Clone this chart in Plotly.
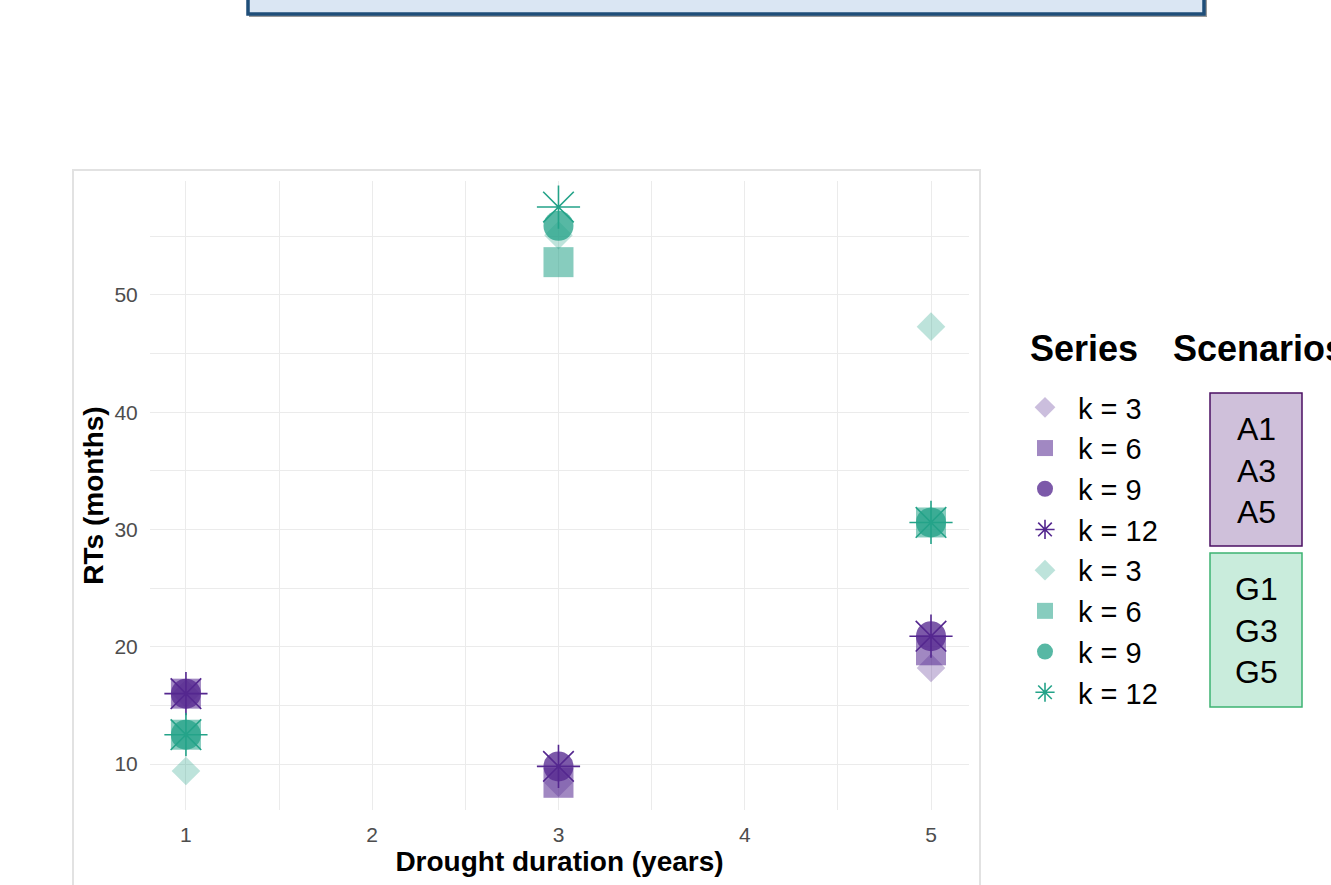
import plotly.graph_objects as go

# ---------------- data ----------------
durations = [1, 3, 5]                      # drought duration (years)
k_labels = ["k = 3", "k = 6", "k = 9", "k = 12"]
scen_A = ["A1", "A3", "A5"]
scen_G = ["G1", "G3", "G5"]

# RTs (months) for scenarios A (purple) per k, at durations 1,3,5
rt_A_k3 = [16.0, 8.4, 18.2]
rt_A_k6 = [16.0, 8.4, 19.7]
rt_A_k9 = [16.0, 9.8, 20.9]
rt_A_k12 = [16.0, 9.8, 20.9]

# RTs (months) for scenarios G (teal) per k
rt_G_k3 = [9.4, 55.1, 47.3]
rt_G_k6 = [12.5, 52.8, 30.6]
rt_G_k9 = [12.5, 55.9, 30.6]
rt_G_k12 = [12.5, 57.5, 30.6]

y_ticks = [10, 20, 30, 40, 50]
x_ticks = [1, 2, 3, 4, 5]

# ---------------- styling ----------------
W, H = 1331, 885
FONT = "Liberation Sans, Arial, sans-serif"
purple = (84, 39, 143)
teal = (36, 163, 137)
alphas = [0.3, 0.55, 0.77, 1.0]
symbols = ["diamond", "square", "circle", "asterisk-open"]
sizes = [22, 30, 30, 36]


def px(x):
    return x / W


def py(y):
    return 1 - y / H


def rgba(c, a):
    return "rgba(%d,%d,%d,%.2f)" % (c[0], c[1], c[2], a)


fig = go.Figure()

groups = [
    (purple, [rt_A_k3, rt_A_k6, rt_A_k9, rt_A_k12]),
    (teal, [rt_G_k3, rt_G_k6, rt_G_k9, rt_G_k12]),
]
for col, series in groups:
    for i, vals in enumerate(series):
        sym = symbols[i]
        is_star = sym.startswith("asterisk")
        c = rgba(col, alphas[i])
        fig.add_trace(go.Scatter(
            x=durations, y=vals, mode="markers", name=k_labels[i],
            marker=dict(
                symbol=sym, size=sizes[i], color=c,
                line=dict(width=1.6 if is_star else 0, color=c),
            ),
            hoverinfo="x+y+name",
        ))

fig.update_layout(
    width=W, height=H,
    margin=dict(l=0, r=0, t=0, b=0),
    paper_bgcolor="white", plot_bgcolor="white",
    font=dict(family=FONT, color="black"),
    showlegend=True,
    legend=dict(
        x=px(1012), y=py(382), xanchor="left", yanchor="top",
        font=dict(size=29, family=FONT, color="black"),
        itemwidth=56, bgcolor="rgba(0,0,0,0)", traceorder="normal",
        itemsizing="trace",
    ),
    xaxis=dict(
        domain=[px(150), px(969)], range=[0.807, 5.204],
        tickvals=x_ticks, ticks="outside", ticklen=6, tickcolor="rgba(0,0,0,0)",
        tickfont=dict(size=21, color="#4d4d4d", family=FONT),
        showgrid=True, gridcolor="#ebebeb", gridwidth=1.3,
        minor=dict(dtick=0.5, tick0=0.5, showgrid=True, gridcolor="#ebebeb", gridwidth=1.3),
        zeroline=False, showline=False,
        title=dict(text="<b>Drought duration (years)</b>", font=dict(size=28, color="black", family=FONT), standoff=6),
        automargin=False,
    ),
    yaxis=dict(
        domain=[py(810), py(181)], range=[6.08, 59.72],
        tickvals=y_ticks, ticks="outside", ticklen=7, tickcolor="rgba(0,0,0,0)",
        tickfont=dict(size=21, color="#4d4d4d", family=FONT),
        showgrid=True, gridcolor="#ebebeb", gridwidth=1.3,
        minor=dict(dtick=5, tick0=0, showgrid=True, gridcolor="#ebebeb", gridwidth=1.3),
        zeroline=False, showline=False,
        title=dict(text="<b>RTs (months)</b>", font=dict(size=28, color="black", family=FONT), standoff=2),
        automargin=False,
    ),
)

shapes = [
    # panel border
    dict(type="rect", xref="paper", yref="paper", x0=px(73), x1=px(980), y0=py(905), y1=py(170),
         line=dict(color="#e2e2e2", width=2), fillcolor="rgba(0,0,0,0)", layer="below"),
    # top banner shadow
    dict(type="rect", xref="paper", yref="paper", x0=px(250), x1=px(1206), y0=py(16), y1=py(-30),
         line=dict(color="#9a9a9a", width=2), fillcolor="#9a9a9a"),
    # top banner
    dict(type="rect", xref="paper", yref="paper", x0=px(248), x1=px(1204), y0=py(14), y1=py(-30),
         line=dict(color="#1f4e79", width=3.5), fillcolor="#dae6f3"),
    # scenario boxes
    dict(type="rect", xref="paper", yref="paper", x0=px(1210), x1=px(1302), y0=py(546), y1=py(393),
         line=dict(color="#4b0f63", width=1.5), fillcolor="#cfc0da"),
    dict(type="rect", xref="paper", yref="paper", x0=px(1210), x1=px(1302), y0=py(707), y1=py(553),
         line=dict(color="#3cb371", width=1.5), fillcolor="#c9ecdc"),
]
fig.update_layout(shapes=shapes)

annotations = [
    dict(text="<b>Series</b>", x=px(1028), y=py(348), xref="paper", yref="paper",
         xanchor="left", yanchor="middle", showarrow=False, font=dict(size=36, color="black", family=FONT)),
    dict(text="<b>Scenarios</b>", x=px(1171), y=py(348), xref="paper", yref="paper",
         xanchor="left", yanchor="middle", showarrow=False, font=dict(size=36, color="black", family=FONT)),
    dict(text="<br>".join(scen_A), x=px(1256), y=py(470), xref="paper", yref="paper",
         xanchor="center", yanchor="middle", showarrow=False, align="center",
         font=dict(size=32, color="black", family=FONT)),
    dict(text="<br>".join(scen_G), x=px(1256), y=py(630), xref="paper", yref="paper",
         xanchor="center", yanchor="middle", showarrow=False, align="center",
         font=dict(size=32, color="black", family=FONT)),
]
fig.update_layout(annotations=annotations)

fig.write_html("out.html", config={"displayModeBar": False},
               post_script="document.body.style.margin='0px';")
